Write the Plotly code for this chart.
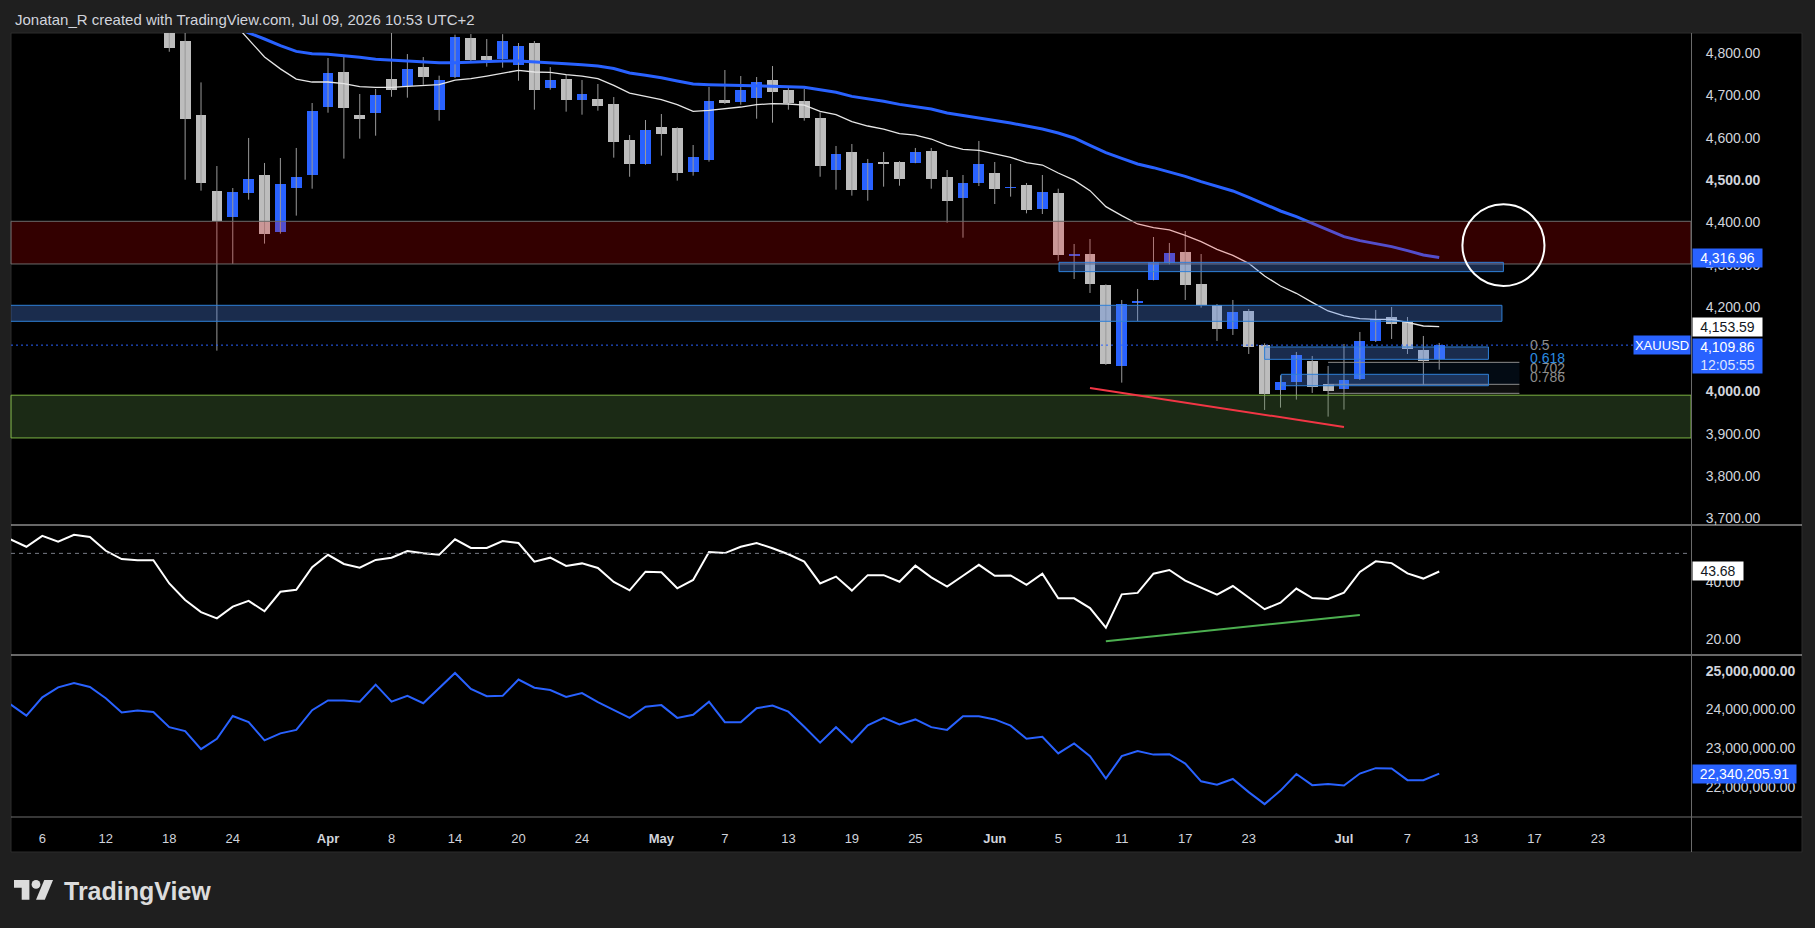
import plotly.graph_objects as go
import pandas as pd

# ---------------- data ----------------
SESSION_START, SESSION_END = "2026-03-02", "2026-07-31"
MARKET_HOLIDAYS = ["2026-04-03"]

candle_start = "2026-03-18"
opens = [4870, 4828.8, 4653.9, 4474.4, 4413.6, 4470.4, 4512.1, 4377.3, 4482.1, 4512.9,
         4673.6, 4755.6, 4653.9, 4659.4, 4739, 4723.2, 4767.3, 4666.5, 4744.5, 4835.9,
         4793.4, 4787, 4772.9, 4824.1, 4718.5, 4739, 4690.2, 4691.7, 4679.9, 4594.8,
         4538.8, 4625.5, 4622.3, 4520, 4548.3, 4689.4, 4685.4, 4694.9, 4736.6, 4713,
         4687, 4646.8, 4524.7, 4566.4, 4477.4, 4541.5, 4542.8, 4541.3, 4568.8, 4507.3,
         4458.5, 4494, 4516.7, 4481, 4488.4, 4432.5, 4469.5, 4321.5, 4325.3, 4252,
         4060.6, 4210, 4264.7, 4304.9, 4330.1, 4254.4, 4204, 4148, 4190.6, 4110.2,
         4003.8, 4022.8, 4072.4, 4018, 4006.2, 4029.8, 4119.7, 4176.4, 4164.6, 4098.4,
         4076.3]
highs = [4890, 4860, 4731, 4533.3, 4481.3, 4599.6, 4540.5, 4552.3, 4576, 4682.3,
         4788.6, 4795, 4703.6, 4715.4, 4855, 4798, 4791, 4746.9, 4843.8, 4845.4,
         4833.6, 4845, 4824.1, 4828.8, 4767.3, 4748.5, 4736.6, 4727.2, 4696.4, 4606.6,
         4642.1, 4656.3, 4624.8, 4583, 4720.1, 4760.3, 4746.1, 4743.7, 4769.7, 4721.7,
         4715.4, 4660.2, 4580.7, 4585.4, 4550, 4566.4, 4545, 4576, 4576, 4523.9,
         4512.1, 4592.5, 4542.8, 4538.1, 4493.2, 4512.1, 4479.7, 4349, 4360.8, 4253.6,
         4216.6, 4242.6, 4365.5, 4351.4, 4379.7, 4325.3, 4207.1, 4216.6, 4195.3, 4114.2,
         4038.5, 4093.7, 4084.2, 4060.6, 4112.6, 4141, 4193, 4200.1, 4176.4, 4131.5,
         4115]
lows = [4803.5, 4501, 4475, 4096.8, 4301.7, 4453.8, 4349.8, 4373.4, 4416, 4479.7,
        4659.4, 4550.8, 4598, 4605, 4697, 4694.9, 4725.6, 4640.5, 4741.4, 4781.6,
        4768.2, 4765.8, 4735, 4666.5, 4713.8, 4661.8, 4654.7, 4664.2, 4553.1, 4508,
        4536.5, 4557.8, 4498.7, 4510.5, 4543.6, 4679.9, 4678.3, 4645.2, 4635.8, 4666.5,
        4640.5, 4508, 4477.4, 4463.2, 4451.4, 4484.5, 4486.8, 4540, 4479.7, 4399.3,
        4363.9, 4486, 4443.5, 4460.9, 4421.4, 4419.8, 4309.5, 4266.2, 4233.2, 4063,
        4021.2, 4167, 4263, 4300.9, 4216.6, 4198.5, 4119.7, 4133.9, 4088.9, 3956.6,
        3962.1, 3981, 3996.8, 3940.8, 3957.4, 4027.5, 4117.3, 4124.4, 4088.9, 4016.4,
        4051.9]
closes = [4813, 4645.2, 4494, 4402.5, 4471.9, 4502.7, 4373.4, 4490.8, 4507.3, 4663.4,
          4753.2, 4671.3, 4645.2, 4701.2, 4713.8, 4762.6, 4744.5, 4736.6, 4838.3, 4784.7,
          4784.7, 4828.8, 4817, 4713.8, 4736.6, 4690.2, 4703.6, 4676, 4590.9, 4538.8,
          4617.6, 4609.8, 4517.5, 4554.6, 4687, 4681.5, 4713, 4731.9, 4709, 4681.5,
          4647.6, 4534.1, 4561.8, 4477.4, 4540.4, 4538, 4503.4, 4566.4, 4503.4, 4451.4,
          4493.2, 4538.1, 4479.7, 4484.5, 4430.1, 4471.9, 4323.7, 4325, 4254.4, 4065.3,
          4207.1, 4213.5, 4306.4, 4327.7, 4252, 4204, 4148, 4188.2, 4106.3, 3994.4,
          4022.8, 4086.6, 4010.9, 4001.5, 4027.5, 4119.7, 4171.7, 4160.7, 4101.6, 4073.2,
          4109.86]

ma_start = "2026-03-20"
ma_fast = [4960, 4925, 4874, 4833, 4791, 4763, 4739, 4731.9, 4731.9, 4728,
           4720.9, 4719.3, 4719.3, 4721.7, 4724, 4725.6, 4736.6, 4739.8, 4746, 4753.2,
           4759.5, 4755.6, 4754.8, 4749.3, 4746, 4740, 4724, 4705.9, 4698, 4690.2,
           4678.3, 4662.6, 4665, 4668.1, 4672.8, 4678.3, 4680.7, 4679.9, 4677.5, 4662.6,
           4654.7, 4638.2, 4627.9, 4620.8, 4609.8, 4606.6, 4597.2, 4582.2, 4572.7, 4570.4,
           4562.5, 4553.8, 4541.3, 4535.7, 4516.8, 4500, 4475.1, 4437.2, 4416, 4396.3,
           4387.6, 4382.1, 4369.5, 4354.5, 4336.4, 4322.2, 4303.3, 4273.3, 4249.7, 4232.4,
           4211.1, 4190.6, 4178.8, 4172.5, 4170.9, 4170.9, 4163.8, 4155.1, 4153.59]
ma_slow = [4905, 4888, 4868, 4848, 4833.6, 4817.8, 4804.4, 4799, 4797.3, 4794.2,
           4790.2, 4785.5, 4783.1, 4780.8, 4778.4, 4777.6, 4777.6, 4779.2, 4780, 4781.6,
           4781.6, 4780, 4777.6, 4775.3, 4772.9, 4769.7, 4764, 4753.2, 4747.7, 4742.2,
           4734.3, 4727.2, 4725.6, 4724.8, 4724, 4724, 4722.5, 4720.9, 4719.3, 4713,
           4707.5, 4698, 4692.5, 4686.2, 4679.1, 4674.4, 4668.1, 4658.6, 4653.1, 4647.6,
           4641.3, 4635, 4627.9, 4620.8, 4611.4, 4599.6, 4582, 4564.9, 4551.5, 4538.1,
           4529.4, 4520, 4508.9, 4496.3, 4484.5, 4474.3, 4459.3, 4443.5, 4427, 4413.6,
           4397.8, 4382.1, 4366.3, 4356.9, 4349.8, 4342.7, 4333.2, 4323, 4316.96]

osc_start = "2026-03-04"
rsi = [54.9, 52.3, 56.1, 54.1, 56.5, 55.7, 50.9, 48.0, 47.6, 47.6,
       39.5, 33.7, 29.5, 27.3, 31.4, 33.4, 29.8, 36.6, 37.3, 45.2,
       49.5, 46.3, 45.0, 47.7, 48.5, 50.8, 50.0, 49.5, 54.9, 51.9,
       51.9, 54.3, 53.6, 47.1, 48.5, 45.6, 46.5, 44.9, 40.0, 37.1,
       43.6, 43.4, 37.8, 40.7, 50.5, 50.1, 52.3, 53.6, 51.8, 49.7,
       47.1, 39.5, 41.9, 37.0, 42.4, 42.4, 40.1, 45.7, 41.6, 38.4,
       42.2, 46.0, 42.2, 42.3, 39.0, 42.9, 34.3, 34.3, 30.9, 24.1,
       35.7, 36.2, 42.9, 44.2, 40.5, 38.1, 35.6, 38.6, 34.5, 30.5,
       32.8, 37.7, 34.4, 34.1, 36.3, 43.5, 47.2, 46.6, 43.0, 41.2,
       43.68]
flow_millions = [24.13, 23.84, 24.31, 24.57, 24.68, 24.58, 24.29, 23.92, 23.97, 23.93,
                 23.54, 23.44, 22.97, 23.24, 23.83, 23.67, 23.20, 23.38, 23.47, 23.98,
                 24.23, 24.23, 24.20, 24.64, 24.20, 24.35, 24.16, 24.54, 24.94, 24.53,
                 24.34, 24.35, 24.77, 24.56, 24.50, 24.32, 24.42, 24.19, 23.98, 23.78,
                 24.07, 24.11, 23.78, 23.86, 24.20, 23.67, 23.67, 24.03, 24.10, 23.94,
                 23.55, 23.14, 23.54, 23.15, 23.59, 23.78, 23.61, 23.74, 23.54, 23.47,
                 23.82, 23.82, 23.74, 23.58, 23.24, 23.29, 22.86, 23.12, 22.79, 22.21,
                 22.79, 22.92, 22.83, 22.84, 22.60, 22.14, 22.05, 22.20, 21.86, 21.55,
                 21.90, 22.33, 22.04, 22.07, 22.03, 22.34, 22.48, 22.47, 22.17, 22.17,
                 22.34020591]

tick_dates = ["2026-03-06", "2026-03-12", "2026-03-18", "2026-03-24", "2026-04-01", "2026-04-08",
              "2026-04-14", "2026-04-20", "2026-04-24", "2026-05-01", "2026-05-07", "2026-05-13",
              "2026-05-19", "2026-05-25", "2026-06-01", "2026-06-05", "2026-06-11", "2026-06-17",
              "2026-06-23", "2026-07-01", "2026-07-07", "2026-07-13", "2026-07-17", "2026-07-23"]
tick_text = ["6", "12", "18", "24", "<b>Apr</b>", "8", "14", "20", "24", "<b>May</b>", "7", "13",
             "19", "25", "<b>Jun</b>", "5", "11", "17", "23", "<b>Jul</b>", "7", "13", "17", "23"]

price_ticks = [3700, 3800, 3900, 4000, 4100, 4200, 4300, 4400, 4500, 4600, 4700, 4800]
price_bold = [4000, 4500]
rsi_ticks = [20, 40]
flow_ticks = [22e6, 23e6, 24e6, 25e6]
flow_bold = [25e6]

last_price = 4109.86
last_fast, last_slow = 4153.59, 4316.96
last_rsi = 43.68
last_flow = 22340205.91

red_zone = (4301.7, 4402.6)
green_zone = (3890.4, 3991.5)
blue_zones = [  # (x0 index, x1 index, low, high)
    (1.5, 95.95, 4166.2, 4204.0),
    (68.05, 96.04, 4283.6, 4305.6),
    (81.0, 95.1, 4076.3, 4105.5),
    (82.05, 95.1, 4013.9, 4040.9),
]
fib_levels = [4069.2, 4017.2, 3995.9]
fib_x = (85.0, 97.05)
fib_labels = ["0.5", "0.618", "0.702", "0.786"]
fib_label_y = [4110.0, 4080.0, 4055.6, 4033.8]
red_trend = ((70, 4008.6), (86, 3916.4))
rsi_trend = ((71, 19.3), (87, 28.5))
circle_box = (93.46, 98.63, 4249.7, 4442.8)

# ---------------- geometry helpers ----------------
W, H = 1815, 928
ML, MR, MT, MB = 11, 124, 33, 111
PW, PH = W - ML - MR, H - MT - MB


def fx(p):
    return (p - ML) / PW


def fy(p):
    return (H - MB - p) / PH


sessions = [d.strftime("%Y-%m-%d") for d in pd.bdate_range(SESSION_START, SESSION_END)]
sessions = [d for d in sessions if d not in MARKET_HOLIDAYS]
idx = {d: i for i, d in enumerate(sessions)}


def xs(start, n):
    s = idx[start]
    return list(range(s, s + n))


BLUE = "#2962ff"
GRAY = "#bdbdbd"
WICK = "#999999"
TXT = "#d1d4dc"
FONT = "Liberation Sans, Arial, sans-serif"

fig = go.Figure()

# candles: wicks then bodies
cx = xs(candle_start, len(opens))
wx, wy = [], []
for x, h, l in zip(cx, highs, lows):
    wx += [x, x, None]
    wy += [l, h, None]
fig.add_trace(go.Scatter(x=wx, y=wy, mode="lines", line=dict(color=WICK, width=1),
                         hoverinfo="skip", yaxis="y"))
base, span, cols = [], [], []
for o, c in zip(opens, closes):
    lo, hi = min(o, c), max(o, c)
    if hi - lo < 4:
        m = (o + c) / 2
        lo, hi = m - 2, m + 2
    base.append(lo)
    span.append(hi - lo)
    cols.append(BLUE if c >= o else GRAY)
fig.add_trace(go.Bar(x=cx, y=span, base=base, width=0.68,
                     marker=dict(color=cols, line=dict(width=0)), yaxis="y"))

mx = xs(ma_start, len(ma_fast))
fig.add_trace(go.Scatter(x=mx, y=ma_fast, mode="lines", line=dict(color="#e6e6e6", width=1.3), yaxis="y"))
fig.add_trace(go.Scatter(x=mx, y=ma_slow, mode="lines", line=dict(color=BLUE, width=3), yaxis="y"))

ox = xs(osc_start, len(rsi))
fig.add_trace(go.Scatter(x=ox, y=rsi, mode="lines", line=dict(color="#ffffff", width=2), yaxis="y2"))
fig.add_trace(go.Scatter(x=xs(osc_start, len(flow_millions)), y=[v * 1e6 for v in flow_millions],
                         mode="lines", line=dict(color=BLUE, width=2), yaxis="y3"))


def fmt(v):
    return f"{v:,.2f}"


def ax_common(**kw):
    d = dict(showgrid=False, zeroline=False, showline=False, automargin=False, fixedrange=True,
             ticks="outside", ticklen=0, tickcolor="rgba(0,0,0,0)",
             tickfont=dict(family=FONT, size=14, color=TXT))
    d.update(kw)
    return d


fig.update_layout(
    width=W, height=H, margin=dict(l=ML, r=MR, t=MT, b=MB, pad=0),
    paper_bgcolor="#1f1f1f", plot_bgcolor="#000000", showlegend=False,
    template="none", hovermode=False, bargap=0,
    xaxis=ax_common(domain=[0, 1], anchor="y3", range=[2.03, 107.86], tickmode="array",
                    tickvals=[idx[d] for d in tick_dates], ticktext=tick_text,
                    tickfont=dict(family=FONT, size=13, color=TXT), ticklabelstandoff=9),
    yaxis=ax_common(domain=[fy(525), 1], anchor="x", side="right", range=[3684.6, 4847.8],
                    tickmode="array", tickvals=price_ticks,
                    ticktext=[f"<b>{fmt(v)}</b>" if v in price_bold else fmt(v) for v in price_ticks],
                    ticklabelstandoff=11),
    yaxis2=ax_common(domain=[fy(655), fy(525)], anchor="x", side="right", range=[14.52, 59.9],
                     tickmode="array", tickvals=rsi_ticks, ticktext=[fmt(v) for v in rsi_ticks],
                     ticklabelstandoff=11),
    yaxis3=ax_common(domain=[0, fy(655)], anchor="x", side="right", range=[21.217e6, 25.406e6],
                     tickmode="array", tickvals=flow_ticks,
                     ticktext=[f"<b>{fmt(v)}</b>" if v in flow_bold else fmt(v) for v in flow_ticks],
                     ticklabelstandoff=11),
)

shapes = []
# chart background and frame
shapes.append(dict(type="rect", xref="paper", yref="paper", x0=fx(11), x1=fx(1802), y0=fy(852), y1=fy(33),
                   fillcolor="#000000", line=dict(color="#2c2c2c", width=1), layer="below"))
# zones (drawn above candles, translucent)
shapes.append(dict(type="rect", xref="paper", yref="y", x0=0, x1=1, y0=red_zone[0], y1=red_zone[1],
                   fillcolor="rgba(255,0,0,0.2)", line=dict(color="#6b6b6b", width=1), layer="above"))
shapes.append(dict(type="rect", xref="paper", yref="y", x0=0, x1=1, y0=green_zone[0], y1=green_zone[1],
                   fillcolor="rgba(90,140,70,0.3)", line=dict(color="#7cb342", width=1), layer="above"))
# fib fills + lines
shapes.append(dict(type="rect", xref="x", yref="y", x0=fib_x[0], x1=fib_x[1], y0=fib_levels[1], y1=fib_levels[0],
                   fillcolor="rgba(33,120,220,0.09)", line=dict(width=0), layer="above"))
shapes.append(dict(type="rect", xref="x", yref="y", x0=fib_x[0], x1=fib_x[1], y0=fib_levels[2], y1=fib_levels[1],
                   fillcolor="rgba(150,150,150,0.09)", line=dict(width=0), layer="above"))
for lv in fib_levels:
    shapes.append(dict(type="line", xref="x", yref="y", x0=fib_x[0], x1=fib_x[1], y0=lv, y1=lv,
                       line=dict(color="#8c8c8c", width=1), layer="above"))
for x0, x1, lo, hi in blue_zones:
    shapes.append(dict(type="rect", xref="x", yref="y", x0=x0, x1=x1, y0=lo, y1=hi,
                       fillcolor="rgba(80,135,235,0.33)", line=dict(color="#2f80d8", width=1), layer="above"))
# current price dotted line
shapes.append(dict(type="line", xref="paper", yref="y", x0=0, x1=1, y0=last_price, y1=last_price,
                   line=dict(color=BLUE, width=1, dash="2px,3px"), layer="above"))
# trend lines
(a, b) = red_trend
shapes.append(dict(type="line", xref="x", yref="y", x0=a[0], y0=a[1], x1=b[0], y1=b[1],
                   line=dict(color="#f23645", width=2), layer="above"))
(a, b) = rsi_trend
shapes.append(dict(type="line", xref="x", yref="y2", x0=a[0], y0=a[1], x1=b[0], y1=b[1],
                   line=dict(color="#4caf50", width=2), layer="above"))
shapes.append(dict(type="line", xref="paper", yref="y2", x0=0, x1=1, y0=50, y1=50,
                   line=dict(color="#787b86", width=1, dash="4px,4px"), layer="above"))
shapes.append(dict(type="circle", xref="x", yref="y", x0=circle_box[0], x1=circle_box[1],
                   y0=circle_box[2], y1=circle_box[3], line=dict(color="#ffffff", width=2), layer="above"))
# pane separators / axis separators
for yy, col in [(525, "#cfcfcf"), (655, "#cfcfcf"), (817, "#6e6e6e")]:
    shapes.append(dict(type="line", xref="paper", yref="paper", x0=fx(11), x1=fx(1802), y0=fy(yy), y1=fy(yy),
                       line=dict(color=col, width=1), layer="above"))
shapes.append(dict(type="line", xref="paper", yref="paper", x0=fx(1691.5), x1=fx(1691.5), y0=fy(852), y1=fy(33),
                   line=dict(color="#6a6a6a", width=1), layer="above"))

# TradingView logo mark
S, OX, OY = 1.1, 14, 875.6


def logo_path(pts):
    return "M " + " L ".join(f"{fx(OX + x * S):.6f},{fy(OY + y * S):.6f}" for x, y in pts) + " Z"


shapes.append(dict(type="path", xref="paper", yref="paper",
                   path=logo_path([(14, 22), (7, 22), (7, 11), (0, 11), (0, 4), (14, 4)]),
                   fillcolor="#dcdcdc", line=dict(width=0)))
shapes.append(dict(type="path", xref="paper", yref="paper",
                   path=logo_path([(28, 22), (20, 22), (27.5, 4), (35.5, 4)]),
                   fillcolor="#dcdcdc", line=dict(width=0)))
shapes.append(dict(type="circle", xref="paper", yref="paper",
                   x0=fx(OX + 16 * S), x1=fx(OX + 24 * S), y0=fy(OY + 12 * S), y1=fy(OY + 4 * S),
                   fillcolor="#dcdcdc", line=dict(width=0)))

annotations = []
annotations.append(dict(text="Jonatan_R created with TradingView.com, Jul 09, 2026 10:53 UTC+2",
                        xref="paper", yref="paper", x=fx(13), y=fy(19), xanchor="left", yanchor="middle",
                        showarrow=False, font=dict(family=FONT, size=15, color=TXT)))
annotations.append(dict(text="<b>TradingView</b>", xref="paper", yref="paper", x=fx(62), y=fy(891),
                        xanchor="left", yanchor="middle", showarrow=False,
                        font=dict(family=FONT, size=25, color="#dcdcdc")))


def tag(text, yref, y, bg, fg, w, h=18, xanchor="left", x=1.0, xshift=1, yanchor="middle", size=14):
    return dict(text=text, xref="paper", x=x, xanchor=xanchor, xshift=xshift, yref=yref, y=y,
                yanchor=yanchor, showarrow=False, bgcolor=bg, borderpad=0, width=w, height=h,
                align="center", valign="middle", font=dict(family=FONT, size=size, color=fg))


annotations.append(tag(fmt(last_slow), "y", last_slow, BLUE, "#ffffff", 69))
annotations.append(tag(fmt(last_fast), "y", last_fast, "#ffffff", "#131722", 69))
annotations.append(tag(fmt(last_price) + "<br><span style='color:#dde4ff'>12:05:55</span>", "y", 4126.7,
                       BLUE, "#ffffff", 69, h=34, yanchor="top"))
annotations.append(tag("XAUUSD", "y", last_price, BLUE, "#ffffff", 56, xanchor="right", xshift=0, size=13))
annotations.append(tag(fmt(last_rsi), "y2", last_rsi, "#ffffff", "#131722", 50))
annotations.append(tag(fmt(last_flow), "y3", last_flow, BLUE, "#ffffff", 103))

fib_colors = ["#8c8c8c", "#2a8be0", "#8c8c8c", "#8c8c8c"]
for t, yv, c in zip(fib_labels, fib_label_y, fib_colors):
    annotations.append(dict(text=t, xref="x", yref="y", x=97.6, y=yv, xanchor="left", yanchor="middle",
                            showarrow=False, font=dict(family=FONT, size=14, color=c)))

fig.update_layout(shapes=shapes, annotations=annotations)

fig.write_html("out.html", config={"displayModeBar": False, "staticPlot": True},
               post_script="document.body.style.margin='0';")
